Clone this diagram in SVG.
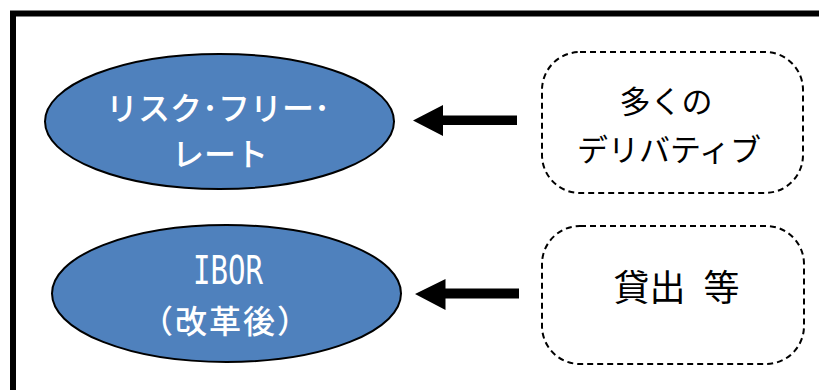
<svg xmlns="http://www.w3.org/2000/svg" width="819" height="390" viewBox="0 0 819 390">
<style>
.frame{fill:#fff;stroke:#000;stroke-width:6}
.ell{fill:#4F81BD;stroke:#000;stroke-width:2}
.box{fill:#fff;stroke:#000;stroke-width:2;stroke-dasharray:6 4}
.arr{fill:#000}
.wt{fill:#fff;font-family:"Noto Sans CJK JP","Noto Sans",sans-serif;font-size:32px;font-weight:500;text-anchor:middle}
.bt{fill:#000;font-family:"Noto Sans CJK JP","Noto Sans",sans-serif;font-size:31px;font-weight:normal;text-anchor:middle}
</style>
<rect width="819" height="390" fill="#fff"/>
<rect class="frame" x="13" y="13.5" width="830" height="400"/>
<g id="rfr">
<ellipse class="ell" cx="219.5" cy="121.5" rx="174.5" ry="67.5"/>
<text class="wt" x="218" y="120">リスク･フリー･</text>
<text class="wt" x="220" y="166">レート</text>
</g>
<g id="ibor">
<ellipse class="ell" cx="226.5" cy="293.5" rx="174.5" ry="68.5"/>
<text class="wt" x="228" y="284" textLength="70" lengthAdjust="spacingAndGlyphs" style="font-family:'DejaVu Sans Mono',monospace;font-size:39px;font-weight:normal">IBOR</text>
<text class="wt" x="226" y="333" style="letter-spacing:2px">（改革後）</text>
</g>
<g id="deriv">
<rect class="box" x="542" y="52" width="261" height="141" rx="38" ry="38"/>
<text class="bt" x="666" y="113">多くの</text>
<text class="bt" x="669" y="161">デリバティブ</text>
</g>
<g id="loans">
<rect class="box" x="542" y="226" width="262" height="138" rx="38" ry="38"/>
<text class="bt" x="676.5" y="301" style="font-size:36px">貸出&#x2002;等</text>
</g>
<g id="connectors">
<polygon class="arr" points="413,120.5 443,105 443,115.5 517,115.5 517,125 443,125 443,136"/>
<polygon class="arr" points="415,294 445.5,279 445.5,288.5 519,288.5 519,298.5 445.5,298.5 445.5,310"/>
</g>
</svg>
